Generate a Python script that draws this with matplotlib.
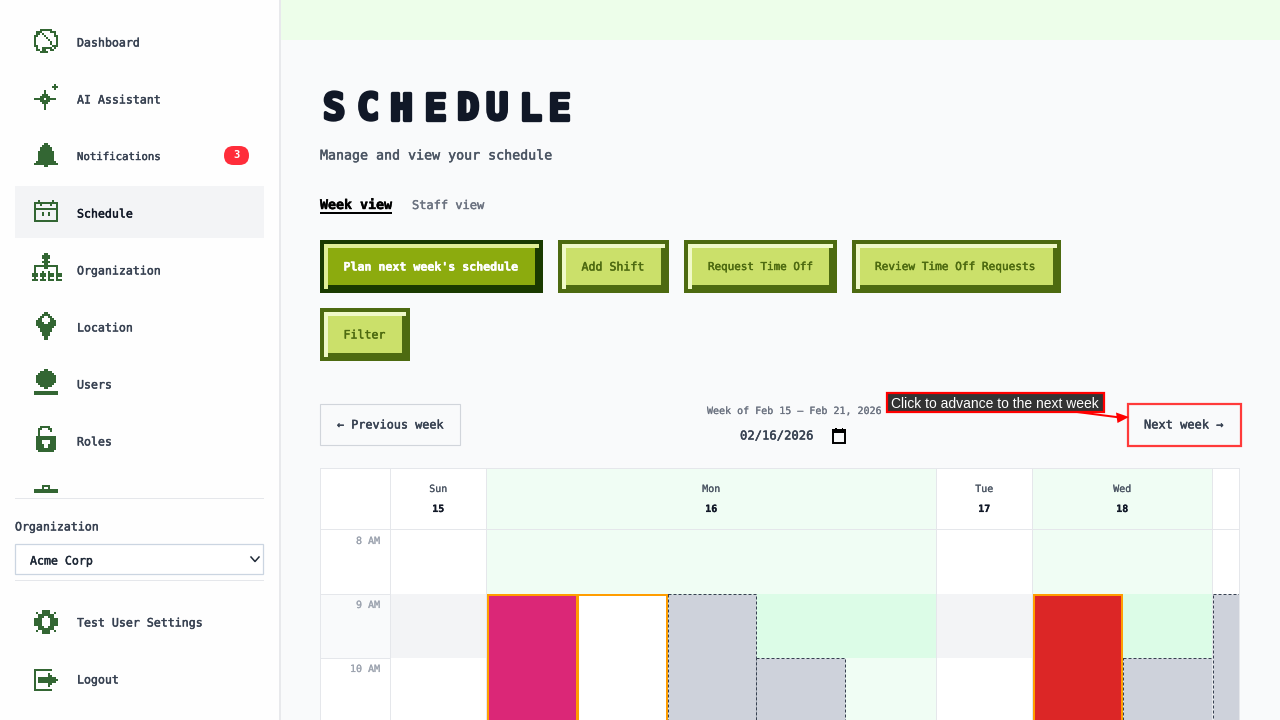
#!/usr/bin/env python3
"""Schedule page screenshot, drawn on an axes that runs in screen pixels."""

import matplotlib

matplotlib.use("Agg")
import matplotlib.patheffects as pe
import matplotlib.pyplot as plt
from matplotlib.patches import FancyBboxPatch, Polygon, Rectangle

MONO = "DejaVu Sans Mono"
ICON_GREEN = "#336633"
GRID = "#e5e7eb"

NAV_LABELS = ["Dashboard", "AI Assistant", "Notifications", "Schedule",
              "Organization", "Location", "Users", "Roles"]
FOOT_LABELS = ["Test User Settings", "Logout"]
BADGE_COUNT = "3"
TITLE_LETTERS = list("SCHEDULE")
SUBTITLE = "Manage and view your schedule"
TABS = ["Week view", "Staff view"]
BUTTONS = ["Plan next week's schedule", "Add Shift", "Request Time Off",
           "Review Time Off Requests", "Filter"]
WEEK_RANGE = "Week of Feb 15 – Feb 21, 2026"
DATE_VALUE = "02/16/2026"
DAY_NAMES = ["Sun", "Mon", "Tue", "Wed"]
DAY_NUMBERS = ["15", "16", "17", "18"]
HOURS = ["8 AM", "9 AM", "10 AM"]

ICONS = {
    "dashboard": ["...######...", ".###....###.", ".##.#.....#.", "##...#....##",
                  "#.....#....#", "#......#...#", "#.......#..#", "#.......#..#",
                  "##.......###", ".#..#####.#.", ".##.##..##..", "...####....."],
    "sparkle": ["..........#..", ".........###.", "..........#..", ".....#.......",
                ".....#.......", "....###......", "...#####.....", "#####.#####..",
                "...#####.....", "....###......", ".....#.......", ".....#.......",
                ".....#......."],
    "bell": [".....##.....", "....####....", "...######...", "...######...",
             "..########..", "..########..", "..########..", "..########..",
             "..########..", ".##########.", "############", ".....##....."],
    "calendar": ["..#......#..", "############", "#..#....#..#", "#..........#",
                 "############", "#..........#", "#...#..#...#", "#...#..#...#",
                 "#..........#", "#..........#", "############"],
    "org": [".......##.......", "......####......", "......####......", ".......##.......",
            "......####......", ".......##.......", "..############..", "..#....##....#..",
            "..#..........#..", "..#...#..#...#..", ".###.###.###.###", ".###.###.###.###",
            "..#...#..#...#..", ".###.###.###.###", "................", "................"],
    "pin": ["....##....", "...####...", "..##..##..", ".##....##.", "###....###",
            "####..####", "##########", ".########.", "..######..", "..######..",
            "...####...", "...####...", "....##....", "....##...."],
    "user": [".....##.....", "...######...", "..########..", ".##########.",
             ".##########.", ".##########.", ".##########.", "..########..",
             "...######...", ".....##.....", "............", "############",
             "############"],
    "lock": ["..#####...", ".##...##..", ".#.....#..", ".#........", ".#........",
             "##########", "##########", "###....###", "###....###", "####..####",
             "####..####", "##########", ".########."],
    "clipped": ["....####....", "....#..#....", "############", "############"],
    "gear": ["....####....", ".#..####..#.", "..########..", "..###..###..",
             "####....####", "####....####", "####....####", "####....####",
             "..###..###..", "..########..", ".#..####..#.", "....####...."],
    "logout": ["#########...", "#...........", "#......#....", "#......##...",
               "#.#########.", "#.##########", "#.#########.", "#......##...",
               "#......#....", "#...........", "#########..."],
}
# icon name, left, top, for the pixel maps above
ICON_PLACES = [("dashboard", 34, 29), ("sparkle", 34, 84), ("bell", 34, 143),
               ("calendar", 34, 200), ("org", 30, 253), ("pin", 36, 312),
               ("user", 34, 369), ("lock", 36, 426), ("clipped", 34, 485),
               ("gear", 34, 610), ("logout", 34, 669)]


def px(size):
    return size * 0.72


def box(ax, x0, y0, x1, y1, color, **kw):
    ax.add_patch(Rectangle((x0, y0), x1 - x0, y1 - y0, facecolor=color,
                           edgecolor=kw.pop("edgecolor", "none"),
                           linewidth=kw.pop("linewidth", 0), **kw))


def label(ax, x, y, text, size=11.6, color="#374151", ha="left", weight="normal", family=MONO):
    # regular mono is a little thin against the page font, so thicken it
    effects = None
    if family == MONO:
        effects = [pe.withStroke(linewidth=0.3 if size > 10.5 else 0.12, foreground=color)]
    ax.text(x, y + (1 if size > 10.5 else 0), text, fontsize=px(size), color=color, ha=ha,
            va="center", fontweight=weight, family=family, path_effects=effects)


def draw_icon(ax, name, left, top):
    for row, line in enumerate(ICONS[name]):
        for col, cell in enumerate(line):
            if cell == "#":
                box(ax, left + col * 2, top + row * 2, left + col * 2 + 2, top + row * 2 + 2,
                    ICON_GREEN, antialiased=False)


def draw_sidebar(ax):
    box(ax, 0, 0, 279, 720, "#fefefe")
    box(ax, 279, 0, 281, 720, "#e8e9ec")
    box(ax, 15, 186, 264, 238, "#f3f4f6")
    for i, name in enumerate(NAV_LABELS):
        active = name == "Schedule"
        size = 10.7 if name == "Notifications" else 11.6
        label(ax, 77, 42 + 57 * i, name, size=size, color="#111827" if active else "#374151")
    for place in ICON_PLACES:
        draw_icon(ax, *place)
    ax.add_patch(FancyBboxPatch((224, 146), 25, 19, boxstyle="round,pad=0,rounding_size=9.5",
                                facecolor="#ff2d3a", edgecolor="none"))
    ax.text(236.5, 155.5, BADGE_COUNT, fontsize=px(10.5), color="white", ha="center", va="center",
            fontweight="bold", family=MONO)

    box(ax, 15, 498, 264, 499, GRID)
    label(ax, 15, 526, "Organization")
    box(ax, 15.2, 544.2, 263.2, 574.2, "white", edgecolor="#cbd5e1", linewidth=0.9)
    label(ax, 30, 560, "Acme Corp", color="#1f2937")
    ax.plot([251, 255, 259], [557, 561.5, 557], color="#1f2937", lw=1.1)
    box(ax, 15, 580, 264, 581, GRID)
    for i, name in enumerate(FOOT_LABELS):
        label(ax, 77, 622 + 57 * i, name)


def draw_button(ax, x0, y0, x1, y1, text, size, dark=False):
    edge, light, fill, ink = (("#1a3a00", "#e0ee96", "#8cab0e", "white") if dark
                              else ("#4d6a10", "#f0f9c8", "#cbe06a", "#4d6a10"))
    box(ax, x0, y0, x1, y1, edge)
    box(ax, x0 + 4, y0 + 4, x1 - 4, y0 + 8, light)
    box(ax, x0 + 4, y0 + 4, x0 + 8, y1 - 4, light)
    box(ax, x0 + 8, y0 + 8, x1 - 8, y1 - 8, fill)
    label(ax, (x0 + x1) / 2 - 0.5, (y0 + y1) / 2 - 0.5, text, size=size, color=ink, ha="center",
          weight="bold" if dark else "normal")


def draw_heading(ax):
    box(ax, 281, 0, 1280, 40, "#edfeea")
    starts = [325, 359, 392, 426, 459, 488, 521, 550]
    for x, letter in zip(starts, TITLE_LETTERS):
        ax.text(x - 2, 109, letter, fontsize=px(37), color="#111827", ha="left", va="center",
                fontweight="bold", family=MONO,
                path_effects=[pe.withStroke(linewidth=2.4, foreground="#111827")])
    label(ax, 320, 155, SUBTITLE, size=13.3, color="#4b5563")
    label(ax, 320, 204.5, TABS[0], size=13.3, color="black", weight="bold")
    box(ax, 320, 211.5, 392, 213.5, "black")
    label(ax, 412, 204.5, TABS[1], size=12, color="#6b7280")
    spans = [(320, 543, 240, 293), (558, 669, 240, 293), (684, 837, 240, 293),
             (852, 1061, 240, 293), (320, 410, 308, 361)]
    sizes = [11.6, 11.6, 10.9, 11.1, 11.6]
    for i, (text, (x0, x1, y0, y1)) in enumerate(zip(BUTTONS, spans)):
        draw_button(ax, x0, y0, x1, y1, text, sizes[i], dark=i == 0)


def draw_week_nav(ax):
    box(ax, 320.2, 404.2, 460.2, 445.2, "none", edgecolor="#d1d5db", linewidth=0.8)
    label(ax, 337, 424, "← Previous week", size=11.8, color="#374151")
    label(ax, 707, 411, WEEK_RANGE, size=10, color="#6b7280")
    label(ax, 740, 435, DATE_VALUE, size=12.2, color="#374151")
    box(ax, 832.7, 429.7, 845.3, 442.5, "none", edgecolor="black", linewidth=1.4)
    box(ax, 832, 429, 846, 433, "black")
    box(ax, 835, 427.5, 836.5, 430, "black")
    box(ax, 841.5, 427.5, 843, 430, "black")

    box(ax, 1127.5, 403.5, 1240.5, 446, "none", edgecolor="#ff3a3a", linewidth=1.6)
    label(ax, 1144, 424, "Next week →", size=12, color="#374151")
    ax.plot([1077, 1120], [412, 417.5], color="#ff0000", lw=1.44)
    ax.add_patch(Polygon([[1129, 417], [1116, 412.5], [1117.5, 423]], closed=True,
                         facecolor="#ff0000", edgecolor="none"))
    box(ax, 887, 393, 1103.5, 411.5, "#333333", edgecolor="#ff0000", linewidth=1.6)
    label(ax, 891, 402.5, "Click to advance to the next week", size=13.9, color="white",
          family="Liberation Sans")


def draw_calendar(ax):
    cols = [320.2, 390.2, 486.2, 936.2, 1032.2, 1212.2, 1239.2]
    tints = ["white", "white", "#f0fdf4", "white", "#f0fdf4", "white"]
    top, head, h8, h9 = 468.2, 529.2, 594, 658
    for i, tint in enumerate(tints):
        box(ax, cols[i], top, cols[i + 1], 720, tint)
    # hour rows
    box(ax, 320.2, h8, 390.2, h9, "#f9fafb")
    box(ax, 390.2, h8, 486.2, h9, "#f3f4f6")
    box(ax, 936.2, h8, 1032.2, h9, "#f3f4f6")
    box(ax, 486.2, h8, 936.2, h9, "#dcfce7")
    box(ax, 1032.2, h8, 1212.2, h9, "#dcfce7")
    for x in cols:
        ax.plot([x, x], [top, 720], color=GRID, lw=0.72)
    ax.plot([320.2, 1239.2], [top, top], color=GRID, lw=0.72)
    ax.plot([320.2, 1239.2], [head, head], color=GRID, lw=0.72)
    ax.plot([320.2, 390.2], [h8, h8], color=GRID, lw=0.72)
    ax.plot([320.2, 390.2], [h9, h9], color=GRID, lw=0.72)

    for i, (name, num) in enumerate(zip(DAY_NAMES, DAY_NUMBERS)):
        cx = (cols[i + 1] + cols[i + 2]) / 2
        label(ax, cx, 489, name, size=10, color="#4b5563", ha="center")
        label(ax, cx, 509, num, size=10, color="#111827", ha="center", weight="bold")
    for hour, y in zip(HOURS, [541, 605, 669]):
        label(ax, 380, y, hour, size=10, color="#9ca3af", ha="right")

    # shifts: assigned ones in orange outline, open ones dashed
    for x0, x1, fill in [(488, 576.5, "#db2777"), (578, 666.5, "white"), (1034, 1122, "#dc2626")]:
        box(ax, x0, 595, x1, 730, fill, edgecolor="#ff9d00", linewidth=1.44)
    for x0, x1, y0 in [(668, 755.5, 594.2), (755.8, 845.2, 658.2), (1123.2, 1211.5, 658.2),
                       (1213.2, 1239, 594.2)]:
        box(ax, x0, y0, x1, 730, "#ced2db", edgecolor="#374151", linewidth=0.72,
            linestyle=(0, (3, 2)))


def main():
    fig = plt.figure(figsize=(12.8, 7.2), dpi=100, facecolor="#f9fafb")
    ax = fig.add_axes([0, 0, 1, 1])
    ax.set_xlim(0, 1280)
    ax.set_ylim(720, 0)
    ax.axis("off")
    draw_heading(ax)
    draw_week_nav(ax)
    draw_calendar(ax)
    draw_sidebar(ax)
    fig.savefig("out.png", dpi=100, facecolor=fig.get_facecolor())


if __name__ == "__main__":
    main()
